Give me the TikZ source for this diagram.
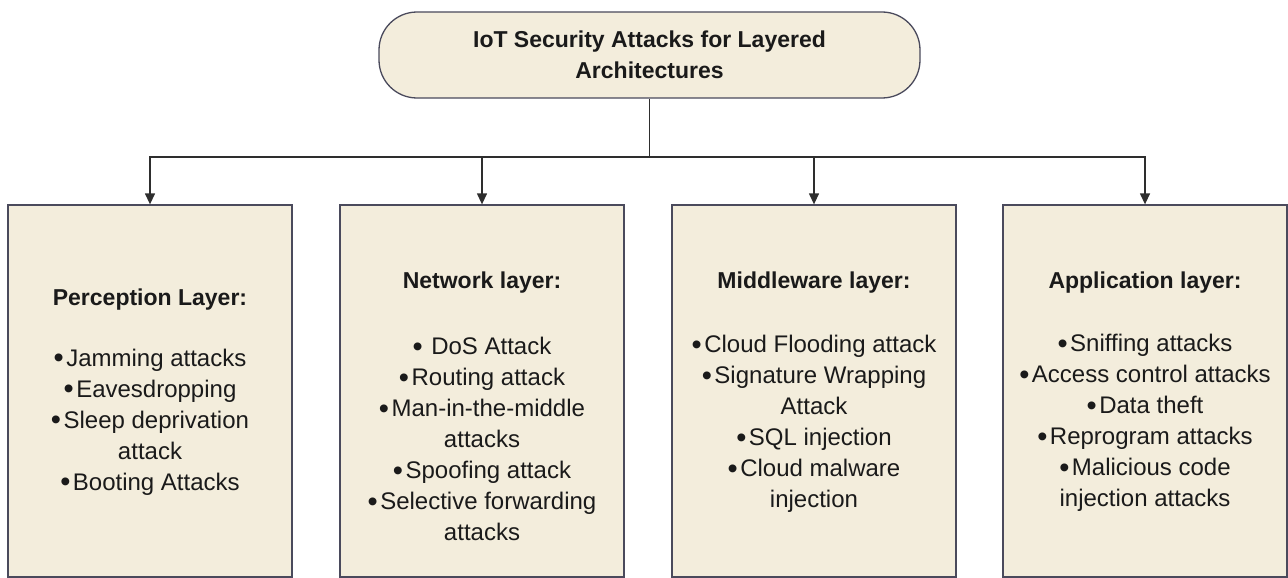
\documentclass[tikz,border=0pt]{standalone}
\usepackage{fontspec}
\setmainfont{Liberation Sans}
\usetikzlibrary{arrows.meta,positioning}
\definecolor{boxfill}{HTML}{F3EDDC}
\definecolor{boxline}{HTML}{4A4A5C}
\definecolor{wire}{HTML}{2E2E2E}
\definecolor{ink}{HTML}{1A1A1A}
\newcommand\bul{{\fontsize{29}{31}\selectfont\raisebox{-1.5pt}{•}}\hspace{2.5pt}}
\tikzset{
  layerbox/.style={draw=boxline,fill=boxfill,line width=1.3pt,minimum width=284pt,minimum height=372pt,inner sep=0pt},
  rootbox/.style={draw=boxline,fill=boxfill,line width=1.3pt,rounded corners=38pt,minimum width=541pt,minimum height=86pt,align=center,text=ink,font=\fontsize{23}{31}\selectfont\bfseries},
  heading/.style={text=ink,font=\fontsize{23}{28}\selectfont\bfseries},
  items/.style={align=center,text=ink,font=\fontsize{24}{31}\selectfont},
  link/.style={draw=wire,line width=1.3pt},
}
\begin{document}
\begin{tikzpicture}[x=1pt,y=-1pt]
    \useasboundingbox (0,0) rectangle (1288,578);
    % root and the four layers
    \node[rootbox] (root) at (649.5,55) {IoT Security Attacks for Layered\\Architectures};
    \node[layerbox] (perception) at (150,391) {};
    \node[layerbox] (network) at (482,391) {};
    \node[layerbox] (middleware) at (814,391) {};
    \node[layerbox] (application) at (1145,391) {};
    % connectors
    \coordinate (junc) at (649.5,157);
    \draw[link] (root.south) -- (junc);
    \foreach \lay in {perception,network,middleware,application}
        \draw[link,-{Triangle[width=10pt,length=11pt]}] (junc) -| (\lay.north);
    % texts inside the layers
    \node[heading] (perceptionhead) at (150,300) {Perception Layer:};
    \node[items] (perceptionlist) at (150,422) {\bul Jamming attacks\\\bul Eavesdropping\\\bul Sleep deprivation\\attack\\\bul Booting Attacks};
    \node[heading] (networkhead) at (482,283) {Network layer:};
    \node[items] (networklist) at (482,439) {\bul\hspace{6pt}DoS Attack\\\bul Routing attack\\\bul Man-in-the-middle\\attacks\\\bul Spoofing attack\\\bul Selective forwarding\\attacks};
    \node[heading] (middlewarehead) at (814,283) {Middleware layer:};
    \node[items] (middlewarelist) at (814,424) {\bul Cloud Flooding attack\\\bul Signature Wrapping\\Attack\\\bul SQL injection\\\bul Cloud malware\\injection};
    \node[heading] (applicationhead) at (1145,283) {Application layer:};
    \node[items] (applicationlist) at (1145,423) {\bul Sniffing attacks\\\bul Access control attacks\\\bul Data theft\\\bul Reprogram attacks\\\bul Malicious code\\injection attacks};
\end{tikzpicture}
\end{document}
